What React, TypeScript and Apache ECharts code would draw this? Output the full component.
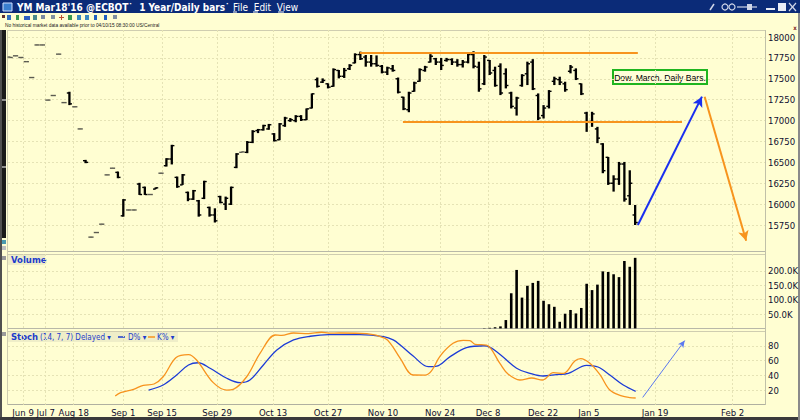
import React, { useEffect, useRef } from "react";
import * as echarts from "echarts";

// ---------- DATA ----------
// Daily OHLC bars [open, high, low, close]; index = session number
const PRICE_BARS: number[][] = [
  [17760, 17765, 17750, 17755], [17775, 17780, 17770, 17775], [17755, 17760, 17750, 17755],
  [17705, 17710, 17700, 17705], [17515, 17520, 17510, 17515], [17905, 17910, 17900, 17905],
  [17905, 17910, 17900, 17905], [17245, 17250, 17240, 17245], [17300, 17305, 17295, 17300],
  [17795, 17800, 17790, 17795], [17215, 17220, 17210, 17215], [17330, 17345, 17185, 17200],
  [17165, 17170, 17160, 17165], [16900, 16905, 16895, 16900], [16520, 16530, 16490, 16500],
  [15605, 15610, 15600, 15605], [15660, 15665, 15655, 15660], [15760, 15765, 15755, 15760],
  [16350, 16355, 16345, 16350], [16430, 16435, 16425, 16430], [16380, 16390, 16310, 16320],
  [15860, 16060, 15850, 16050], [15930, 15935, 15925, 15930], [15930, 15935, 15925, 15930],
  [16240, 16255, 16110, 16115], [16200, 16210, 16110, 16115], [16115, 16120, 16110, 16115],
  [16180, 16200, 16180, 16195], [16370, 16375, 16365, 16370], [16460, 16550, 16450, 16540],
  [16540, 16710, 16475, 16700], [16320, 16330, 16195, 16210], [16230, 16360, 16230, 16350],
  [16140, 16150, 16035, 16060], [16060, 16170, 16050, 16160], [16040, 16050, 15850, 15870],
  [16070, 16280, 16060, 16270], [15960, 15970, 15850, 15870], [15870, 15950, 15780, 15800],
  [16090, 16100, 16010, 16020], [16000, 16090, 15930, 16070], [16000, 16210, 15990, 16200],
  [16440, 16610, 16430, 16600], [16620, 16630, 16615, 16625], [16620, 16755, 16610, 16740],
  [16740, 16885, 16730, 16870], [16880, 16900, 16850, 16890], [16890, 16950, 16880, 16940],
  [16900, 16960, 16890, 16950], [16840, 16850, 16750, 16760], [16770, 16970, 16765, 16960],
  [16940, 17045, 16925, 17030], [17000, 17030, 16985, 17010], [17000, 17065, 16980, 17050],
  [17050, 17065, 16995, 17010], [17010, 17145, 17005, 17140], [17150, 17325, 17145, 17320],
  [17490, 17515, 17395, 17410], [17460, 17505, 17450, 17480], [17440, 17445, 17385, 17400],
  [17410, 17625, 17405, 17610], [17600, 17605, 17505, 17530], [17530, 17630, 17510, 17600],
  [17620, 17675, 17605, 17660], [17690, 17805, 17685, 17790], [17790, 17825, 17725, 17740],
  [17760, 17785, 17645, 17700], [17700, 17785, 17645, 17680], [17680, 17780, 17645, 17660],
  [17650, 17665, 17565, 17580], [17580, 17645, 17545, 17630], [17620, 17665, 17585, 17600],
  [17500, 17515, 17325, 17340], [17280, 17285, 17125, 17140], [17130, 17345, 17100, 17330],
  [17350, 17465, 17345, 17450], [17470, 17625, 17465, 17610], [17600, 17655, 17585, 17640],
  [17700, 17795, 17695, 17770], [17740, 17750, 17665, 17700], [17700, 17750, 17605, 17660],
  [17720, 17750, 17705, 17730], [17730, 17745, 17665, 17700], [17700, 17735, 17645, 17670],
  [17670, 17725, 17635, 17700], [17700, 17805, 17685, 17790], [17790, 17830, 17625, 17650],
  [17640, 17705, 17345, 17380], [17440, 17785, 17425, 17760], [17720, 17725, 17545, 17570],
  [17600, 17645, 17405, 17420], [17650, 17685, 17305, 17330], [17560, 17625, 17385, 17420],
  [17330, 17345, 17145, 17170], [17150, 17285, 17060, 17270], [17420, 17555, 17405, 17540],
  [17560, 17705, 17425, 17680], [17700, 17735, 17365, 17380], [17300, 17325, 17005, 17030],
  [17060, 17185, 17025, 17150], [17170, 17365, 17145, 17350], [17470, 17525, 17425, 17500],
  [17490, 17525, 17425, 17460], [17440, 17465, 17345, 17370], [17590, 17665, 17565, 17640],
  [17600, 17625, 17485, 17500], [17440, 17445, 17305, 17320], [17090, 17105, 16865, 16980],
  [16990, 17105, 16925, 17080], [16900, 16925, 16730, 16790], [16720, 16730, 16370, 16400],
  [16560, 16565, 16230, 16250], [16250, 16345, 16150, 16300], [16300, 16505, 16230, 16480],
  [16480, 16505, 16030, 16060], [16100, 16405, 15990, 16250], [15870, 15990, 15750, 15780],
];

// Volume starts at session 88
const VOLUME_START = 88;
const VOLUMES = [
  1000, 2000, 4000, 7000, 29000, 122000, 203000, 107000, 148000, 158000, 165000, 96000,
  84000, 75000, 23000, 51000, 64000, 52000, 71000, 155000, 133000, 152000, 198000, 196000,
  188000, 178000, 234000, 214000, 245000,
];

// Stochastic (14,7,7) — session position and value
const K_X = [19.5, 20.5, 22.9, 24.7, 26.7, 28.4, 30.8, 33.1, 34.6, 37.7, 40.2, 41.4, 43.9, 46.4, 49.2, 50.4, 52.6, 55.3, 57.8, 59.1, 61.2, 66.2, 69.6, 70.8, 72.4, 74.8, 77, 78.2, 79.8, 82.2, 84.1, 85.3, 86.3, 88.4, 90.9, 92.4, 94.6, 96.8, 98.8, 100.8, 102.7, 104.8, 105.9, 107.6, 109.5, 111.3, 113.5, 115, 116.1];
const K_VAL = [12, 16.5, 21, 26.4, 28.2, 38, 64, 68, 60.7, 30, 20, 21, 38, 70, 94.6, 94, 97.3, 96.5, 98.3, 97, 97.3, 96.5, 90, 81, 63, 40.4, 40.3, 46, 66, 83.3, 87.4, 87, 82, 81, 56, 41.7, 33.6, 36.3, 33.6, 43.5, 42.6, 59.4, 62.6, 56.2, 40.4, 20, 12, 9.7, 9.2];
const D_X = [25.7, 28.4, 30.9, 33.1, 34.9, 37.1, 40.2, 42.7, 44.5, 47, 49.5, 52.6, 55.7, 59.1, 64.9, 69.3, 71.1, 72.4, 74.8, 77.6, 79.2, 81.6, 84.7, 88.1, 90.3, 94, 96.5, 98.9, 101.4, 103.6, 107, 109.1, 111.3, 113.8, 116.1];
const D_VAL = [20, 26.8, 40.4, 54, 57, 49.5, 36, 30, 33.6, 54, 74.3, 87.9, 92.9, 95, 95, 92.3, 87.9, 81, 66, 51.7, 52.5, 65, 77.4, 80, 72, 49.5, 42.7, 39, 41, 42.6, 53.5, 51.2, 40.4, 26.8, 18.3];

// Axis ticks
const DATE_TICKS = [2.4, 6.6, 11.8, 21, 28.2, 38.4, 48.8, 59, 69.2, 79.8, 88.7, 98.9, 107.4, 119.7, 134.1];
const DATE_LABELS = ["Jun 9", "Jul 7", "Aug 18", "Sep 1", "Sep 15", "Sep 29", "Oct 13", "Oct 27", "Nov 10", "Nov 24", "Dec 8", "Dec 22", "Jan 5", "Jan 19", "Feb 2"];
const PRICE_TICKS = [15750, 16000, 16250, 16500, 16750, 17000, 17250, 17500, 17750, 18000];
const VOLUME_TICKS = [50000, 100000, 150000, 200000];
const STOCH_TICKS = [20, 40, 60, 80];

// Drawn annotations [session, value]
const RESISTANCE = [[64.9, 17808], [116.5, 17808]];
const SUPPORT = [[72.9, 16990], [124.7, 16990]];
const UP_ARROW = [[116.5, 15750], [128.4, 17286]];
const DOWN_ARROW = [[128.9, 17286], [136.6, 15562]];
const STOCH_ARROW = [[117.4, 10], [125.2, 87]];
const NOTE = "Dow. March. Daily Bars.";

// ---------- STYLE ----------
const BG = "#fffed2";
const GRID_LINE = "#e5e3b5";
const FONT = "'DejaVu Sans Condensed', 'Liberation Sans Narrow', 'DejaVu Sans', sans-serif";
const BLUE_TXT = "#1c3ccc";
const X_MIN = -0.4;
const X_MAX = 140.1;

function xAxis(gridIndex: number, showLabels: boolean) {
  return {
    type: "value" as const,
    gridIndex,
    min: X_MIN,
    max: X_MAX,
    axisLine: { show: false },
    axisTick: { show: false, customValues: DATE_TICKS },
    axisLabel: {
      show: showLabels,
      customValues: DATE_TICKS,
      margin: 3,
      fontSize: 9.5,
      fontFamily: FONT,
      color: "#101030",
      formatter: (v: number) => {
        const i = DATE_TICKS.findIndex((t) => Math.abs(t - v) < 0.01);
        return i >= 0 ? DATE_LABELS[i] : "";
      },
    },
    splitLine: { show: true, lineStyle: { color: GRID_LINE, type: [2, 2] as any, width: 1 } },
  };
}

function yAxis(gridIndex: number, min: number, max: number, ticks: number[], fmt: (v: number) => string) {
  return {
    type: "value" as const,
    gridIndex,
    position: "right" as const,
    min,
    max,
    axisLine: { show: false },
    axisTick: { show: false, customValues: ticks },
    axisLabel: {
      customValues: ticks,
      margin: 3,
      fontSize: 9.5,
      fontFamily: FONT,
      color: "#101030",
      formatter: fmt,
    },
    splitLine: { show: true, lineStyle: { color: GRID_LINE, type: [2, 2] as any, width: 1 } },
  };
}

export default function App() {
  const ref = useRef<HTMLDivElement>(null);

  useEffect(() => {
    if (!ref.current) return;
    const chart = echarts.init(ref.current, null, { renderer: "svg" });

    const priceData = PRICE_BARS.map((b, i) => [i, b[0], b[1], b[2], b[3]]);
    const volData = VOLUMES.map((v, i) => [VOLUME_START + i, v]);
    const kData = K_X.map((x, i) => [x, K_VAL[i]]);
    const dData = D_X.map((x, i) => [x, D_VAL[i]]);

    const txt = (x: number, y: number, text: string, o: any = {}) => ({
      type: "text",
      x,
      y,
      silent: true,
      style: {
        text,
        fill: o.fill || BLUE_TXT,
        fontSize: o.fontSize || 8,
        fontFamily: o.fontFamily || FONT,
        fontWeight: o.fontWeight || "normal",
        align: o.align || "left",
        verticalAlign: "middle",
      },
    });
    const ln = (x1: number, y1: number, x2: number, y2: number, stroke: string, lineWidth = 1) => ({
      type: "line",
      silent: true,
      shape: { x1, y1, x2, y2 },
      style: { stroke, lineWidth },
    });
    const rc = (x: number, y: number, width: number, height: number, fill: string, stroke?: string, lineWidth = 1) => ({
      type: "rect",
      silent: true,
      shape: { x, y, width, height },
      style: { fill, stroke: stroke || "none", lineWidth },
    });

    const graphic: any[] = [
      // title bar
      rc(0, 0, 800, 13, "#0b2b78"),
      rc(3, 3, 9, 8, "#3a7fd0", "#cfe0ff", 1),
      txt(17, 7, "YM Mar18'16 @ECBOT\u02D9  1 Year/Daily bars\u02D9", { fill: "#ffffff", fontSize: 10, fontWeight: "bold" }),
      txt(233, 7, "File  Edit  View", { fill: "#ffffff", fontSize: 10 }),
      ln(233, 12, 237, 12, "#ffffff"),
      ln(253, 12, 258, 12, "#ffffff"),
      ln(278, 12, 284, 12, "#ffffff"),
      ln(710, 10, 714, 4, "#d0d6e8", 1.5),
      { type: "circle", silent: true, shape: { cx: 725, cy: 7, r: 3 }, style: { fill: "none", stroke: "#d0d6e8", lineWidth: 1.2 } },
      { type: "circle", silent: true, shape: { cx: 732, cy: 7, r: 3 }, style: { fill: "none", stroke: "#d0d6e8", lineWidth: 1.2 } },
      ln(737, 7, 757, 7, "#d0d6e8", 1.2),
      rc(747, 4, 5, 6, "#d0d6e8"),
      rc(766, 8, 9, 2, "#e8ecf6"),
      rc(778, 3, 8, 8, "#e8ecf6"),
      ln(789, 3, 796, 11, "#d0d6e8", 1.2),
      ln(796, 3, 789, 11, "#d0d6e8", 1.2),
      // toolbar icons
      rc(2, 15, 3, 3, "#603030"),
      rc(7, 15, 4, 5, "#3070c0"),
      rc(16, 15, 3, 5, "#3a9a50"),
      rc(24, 16, 6, 4, "#3060c0"),
      rc(33, 15, 4, 5, "#4a8a8a"),
      rc(41, 15, 4, 4, "#7a8aa0"),
      rc(51, 15, 4, 4, "#8090a0"),
      ln(59, 17.5, 64, 17.5, "#c05030"),
      ln(61.5, 15, 61.5, 20, "#c05030"),
      rc(68, 15, 4, 5, "#3a9a50"),
      rc(77, 15, 4, 5, "#3a8ac0"),
      rc(85, 15, 4, 5, "#3a8ac0"),
      rc(94, 15, 3, 5, "#2060c0"),
      rc(104, 15, 3, 5, "#2060c0"),
      rc(113, 15, 4, 4, "#8090a0"),
      txt(5, 25, "No historical market data available prior to 04/10/15 08:30:00 US/Central", { fill: "#202020", fontSize: 4.8, fontFamily: "'Liberation Sans', sans-serif" }),
      txt(795, 27, "x", { fill: "#802020", fontSize: 6, fontWeight: "bold", align: "center" }),
      // left strip
      rc(0, 30, 2, 390, "#505050"),
      rc(2, 30, 4, 208, "#1a1a1a"),
      rc(2, 99, 4, 2, "#909090"),
      rc(2, 166, 4, 2, "#909090"),
      rc(2, 240, 4, 4, "#4a9ab0"),
      rc(2, 246, 4, 4, "#c0c0c0"),
      rc(2, 256, 4, 4, "#9a9a9a"),
      rc(2, 332, 4, 4, "#9a9a9a"),
      // panel borders
      ln(7, 30.5, 765, 30.5, "#cfcdb0"),
      ln(7, 251.5, 765, 251.5, "#b8b8a8"),
      ln(7, 254.5, 765, 254.5, "#cfcdb0"),
      ln(7, 328.5, 765, 328.5, "#b8b8a8"),
      ln(7, 331.5, 765, 331.5, "#cfcdb0"),
      ln(7, 404.5, 765, 404.5, "#b0b0a0"),
      ln(7.5, 30, 7.5, 405, "#cfcdb0"),
      ln(765.5, 30, 765.5, 405, "#c0c0a8"),
      // outer window borders
      rc(0, 417, 800, 3, "#3a3a3a"),
      rc(798, 13, 2, 407, "#8a8a8a"),
      // volume label
      rc(8, 255, 37, 10, "#efeec8"),
      txt(11, 260, "Volume", { fontWeight: "bold", fontSize: 8.5, fontFamily: "'DejaVu Sans', sans-serif" }),
      // stoch label
      rc(8, 332, 170, 10, "#efeec8"),
      txt(11, 337, "Stoch", { fontWeight: "bold", fontSize: 8.5, fontFamily: "'DejaVu Sans', sans-serif" }),
      txt(40, 337, "(14, 7, 7) Delayed \u25BE", { fontSize: 8 }),
      ln(118, 337, 125, 337, "#1c3ccc", 1.5),
      txt(128, 337, "D% \u25BE", { fontSize: 8 }),
      ln(148, 337, 155, 337, "#f7931e", 1.5),
      txt(157, 337, "K% \u25BE", { fontSize: 8 }),
      // note box
      rc(613, 70, 94, 14, "#fffed8", "#1fb51f", 2),
      txt(660, 77.5, NOTE, { fill: "#000000", fontSize: 8.6, fontFamily: "'Liberation Sans', sans-serif", align: "center" }),
    ];

    const option: any = {
      animation: false,
      backgroundColor: BG,
      graphic,
      grid: [
        { left: 8, right: 35, top: 30, height: 221, outerBoundsMode: "none" },
        { left: 8, right: 35, top: 254, height: 74.4, outerBoundsMode: "none" },
        { left: 8, right: 35, top: 331, height: 73.8, outerBoundsMode: "none" },
      ],
      xAxis: [xAxis(0, false), xAxis(1, false), xAxis(2, true)],
      yAxis: [
        yAxis(0, 15439, 18084, PRICE_TICKS, (v: number) => String(v)),
        yAxis(1, 0, 258333, VOLUME_TICKS, (v: number) => (v / 1000).toFixed(1) + "K"),
        yAxis(2, 0, 100, STOCH_TICKS, (v: number) => String(v)),
      ],
      series: [
        {
          type: "custom",
          name: "Price",
          xAxisIndex: 0,
          yAxisIndex: 0,
          data: priceData,
          encode: { x: 0, y: [1, 2, 3, 4] },
          renderItem: (params: any, api: any) => {
            const x = api.value(0);
            const o = api.value(1), h = api.value(2), l = api.value(3), c = api.value(4);
            const pH = api.coord([x, h]);
            const pL = api.coord([x, l]);
            const pO = api.coord([x, o]);
            const pC = api.coord([x, c]);
            const small = h - l < 20;
            const stroke = small ? "#5a5a50" : "#000000";
            const t = 2.6;
            return {
              type: "group",
              children: [
                { type: "line", shape: { x1: pH[0], y1: pH[1], x2: pL[0], y2: pL[1] }, style: { stroke, lineWidth: small ? 1.2 : 2.3 } },
                { type: "line", shape: { x1: pO[0] - t, y1: pO[1], x2: pO[0], y2: pO[1] }, style: { stroke, lineWidth: 1.4 } },
                { type: "line", shape: { x1: pC[0], y1: pC[1], x2: pC[0] + t, y2: pC[1] }, style: { stroke, lineWidth: 1.4 } },
              ],
            };
          },
        },
        {
          type: "line",
          name: "annotations",
          xAxisIndex: 0,
          yAxisIndex: 0,
          data: [],
          silent: true,
          markLine: {
            silent: true,
            animation: false,
            symbol: ["none", "none"],
            label: { show: false },
            emphasis: { disabled: true },
            data: [
              [{ coord: RESISTANCE[0], lineStyle: { color: "#f7941d", width: 2, type: "solid" } }, { coord: RESISTANCE[1] }],
              [{ coord: SUPPORT[0], lineStyle: { color: "#f7941d", width: 2, type: "solid" } }, { coord: SUPPORT[1] }],
              [{ coord: UP_ARROW[0], lineStyle: { color: "#1a2ff0", width: 2, type: "solid" } }, { coord: UP_ARROW[1], symbol: "arrow", symbolSize: [8, 10] }],
              [{ coord: DOWN_ARROW[0], lineStyle: { color: "#f7941d", width: 2, type: "solid" } }, { coord: DOWN_ARROW[1], symbol: "arrow", symbolSize: [8, 10] }],
            ],
          },
        },
        {
          type: "bar",
          name: "Volume",
          xAxisIndex: 1,
          yAxisIndex: 1,
          data: volData,
          barWidth: 2.6,
          itemStyle: { color: "#000000" },
        },
        {
          type: "line",
          name: "D%",
          xAxisIndex: 2,
          yAxisIndex: 2,
          data: dData,
          smooth: 0.35,
          showSymbol: false,
          lineStyle: { color: "#1c3cd6", width: 1.3 },
          markLine: {
            silent: true,
            animation: false,
            symbol: ["none", "none"],
            label: { show: false },
            data: [
              [{ coord: STOCH_ARROW[0], lineStyle: { color: "#5a78f0", width: 1, type: "solid" } }, { coord: STOCH_ARROW[1], symbol: "arrow", symbolSize: [5, 7] }],
            ],
          },
        },
        {
          type: "line",
          name: "K%",
          xAxisIndex: 2,
          yAxisIndex: 2,
          data: kData,
          smooth: 0.35,
          showSymbol: false,
          lineStyle: { color: "#f7931e", width: 1.3 },
        },
      ],
    };

    chart.setOption(option);
    return () => chart.dispose();
  }, []);

  return (
    <div
      ref={ref}
      style={{ position: "fixed", left: 0, top: 0, width: 800, height: 420 }}
    />
  );
}
